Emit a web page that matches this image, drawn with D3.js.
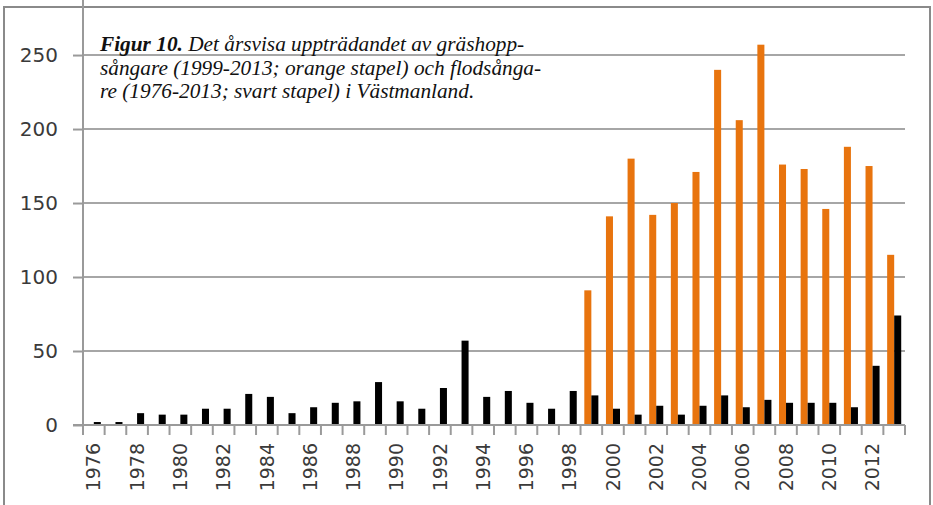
<!DOCTYPE html>
<html><head><meta charset="utf-8">
<script src="https://cdn.jsdelivr.net/npm/d3@7"></script>
<style>html,body{margin:0;padding:0;background:#fff;}svg{display:block;}</style>
</head><body>
<svg id="c" width="933" height="505"></svg>
<script>
const years = [1976,1977,1978,1979,1980,1981,1982,1983,1984,1985,1986,1987,1988,1989,1990,1991,1992,1993,1994,1995,1996,1997,1998,1999,2000,2001,2002,2003,2004,2005,2006,2007,2008,2009,2010,2011,2012,2013];
const flodsangare = [2,2,8,7,7,11,11,21,19,8,12,15,16,29,16,11,25,57,19,23,15,11,23,20,11,7,13,7,13,20,12,17,15,15,15,12,40,74];
const grashoppYears = [1999,2000,2001,2002,2003,2004,2005,2006,2007,2008,2009,2010,2011,2012,2013];
const grashoppsangare = [91,141,180,142,150,171,240,206,257,176,173,146,188,175,115];
const yTicks = [0,50,100,150,200,250];
const xTickLabels = [1976,1978,1980,1982,1984,1986,1988,1990,1992,1994,1996,1998,2000,2002,2004,2006,2008,2010,2012];
const titleLines = [
  [{t:"Figur 10.", b:true},{t:" Det årsvisa uppträdandet av gräshopp-"}],
  [{t:"sångare (1999-2013; orange stapel) och flodsånga-"}],
  [{t:"re (1976-2013; svart stapel) i Västmanland."}]
];

const svg = d3.select("#c");
const left = 83, right = 905, bottom = 425;
const gridCol = "#a6a6a6", axisCol = "#9a9a9a", textCol = "#3a3a3a";

// frame
svg.append("path").attr("d","M4,505 L4,7 L930,7 L930,505").attr("fill","none").attr("stroke","#8a8a8a").attr("stroke-width",2);

const x0 = d3.scaleBand().domain(years).range([left,right]).paddingInner(0.35).paddingOuter(0.175);
const x1 = d3.scaleBand().domain(["orange","black"]).range([0,x0.bandwidth()]);
const y = d3.scaleLinear().domain([0,287.2]).range([bottom,0]);

// gridlines
svg.append("g").selectAll("line").data(yTicks.filter(d=>d>0)).join("line")
  .attr("x1",left).attr("x2",right).attr("y1",d=>y(d)).attr("y2",d=>y(d))
  .attr("stroke",gridCol).attr("stroke-width",2);

// title
const baselines = [51,75,98];
titleLines.forEach((ln,i)=>{
  const t = svg.append("text").attr("x",100).attr("y",baselines[i])
    .attr("font-family","'Liberation Serif','Times New Roman',serif")
    .attr("font-style","italic").attr("font-size",21.3).attr("fill","#111");
  ln.forEach(s=>t.append("tspan").text(s.t).attr("font-weight",s.b?"bold":null));
});

// bars
const bars = svg.append("g");
bars.selectAll("rect.o").data(grashoppYears.map((yr,i)=>({yr,v:grashoppsangare[i]}))).join("rect")
  .attr("x",d=>x0(d.yr)+x1("orange")).attr("width",x1.bandwidth())
  .attr("y",d=>y(d.v)).attr("height",d=>y(0)-y(d.v)).attr("fill","#e8740e");
bars.selectAll("rect.b").data(years.map((yr,i)=>({yr,v:flodsangare[i]}))).join("rect")
  .attr("x",d=>x0(d.yr)+x1("black")).attr("width",x1.bandwidth())
  .attr("y",d=>y(d.v)).attr("height",d=>y(0)-y(d.v)).attr("fill","#000");

// y axis
const yAxis = d3.axisLeft(y).tickValues(yTicks).tickSize(10).tickPadding(15);
const gy = svg.append("g").attr("transform",`translate(${left},0)`).call(yAxis);
gy.select(".domain").attr("stroke",axisCol).attr("stroke-width",2).attr("d",`M0,${y(0)}V0`);
gy.selectAll(".tick line").attr("stroke",axisCol).attr("stroke-width",2);
gy.selectAll(".tick text").attr("font-family","'DejaVu Sans',Verdana,sans-serif").attr("font-size",20).attr("fill",textCol);

// x axis line and boundary ticks
const boundaries = years.map(yr=>x0(yr)-x0.step()*x0.paddingOuter()).concat([right]);
svg.append("line").attr("x1",left-10).attr("x2",right).attr("y1",y(0)).attr("y2",y(0))
  .attr("stroke",axisCol).attr("stroke-width",2);
svg.append("g").selectAll("line").data(boundaries).join("line")
  .attr("x1",d=>d).attr("x2",d=>d).attr("y1",y(0)).attr("y2",y(0)+10)
  .attr("stroke",axisCol).attr("stroke-width",2);
svg.append("g").selectAll("text").data(xTickLabels).join("text")
  .attr("transform",d=>`translate(${x0(d)+x0.bandwidth()/2},${y(0)+18}) rotate(-90)`)
  .attr("text-anchor","end").attr("dy","0.35em")
  .attr("font-family","'DejaVu Sans',Verdana,sans-serif").attr("font-size",19).attr("fill",textCol)
  .text(d=>d);
</script>
</body></html>
